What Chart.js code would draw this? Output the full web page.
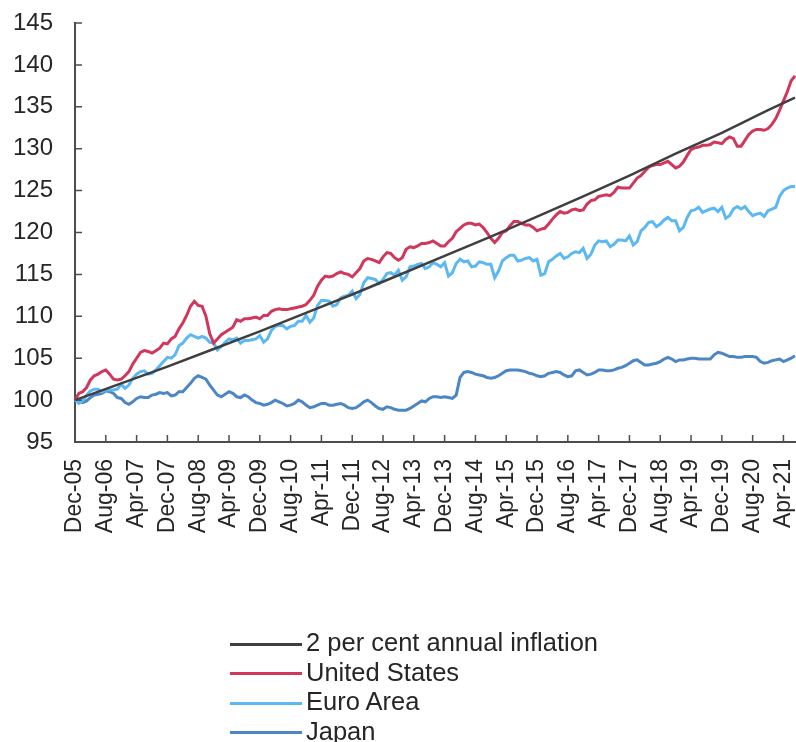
<!DOCTYPE html>
<html>
<head>
<meta charset="utf-8">
<script src="https://cdn.jsdelivr.net/npm/chart.js@4.4.1/dist/chart.umd.min.js"></script>
<style>
  html, body { margin: 0; padding: 0; background: #fff; }
  #wrap { position: relative; width: 796px; height: 742px; }
  #legend {
    position: absolute; left: 230px; top: 628px;
    font-family: "Liberation Sans", Arial, sans-serif; font-size: 25.5px; color: #262626;
  }
  #legend .row { height: 29.5px; line-height: 29.5px; white-space: nowrap; }
  #legend .swatch { display: inline-block; width: 72px; height: 3px; vertical-align: middle; margin-right: 4px; }
</style>
</head>
<body>
<div id="wrap">
  <canvas id="cpiChart" width="796" height="742"></canvas>
  <div id="legend"></div>
</div>
<script>
// Monthly categories, Dec-05 .. Jul-21
const MONTHS = [
  "Dec-05",
  "Jan-06","Feb-06","Mar-06","Apr-06","May-06","Jun-06","Jul-06","Aug-06","Sep-06","Oct-06","Nov-06","Dec-06",
  "Jan-07","Feb-07","Mar-07","Apr-07","May-07","Jun-07","Jul-07","Aug-07","Sep-07","Oct-07","Nov-07","Dec-07",
  "Jan-08","Feb-08","Mar-08","Apr-08","May-08","Jun-08","Jul-08","Aug-08","Sep-08","Oct-08","Nov-08","Dec-08",
  "Jan-09","Feb-09","Mar-09","Apr-09","May-09","Jun-09","Jul-09","Aug-09","Sep-09","Oct-09","Nov-09","Dec-09",
  "Jan-10","Feb-10","Mar-10","Apr-10","May-10","Jun-10","Jul-10","Aug-10","Sep-10","Oct-10","Nov-10","Dec-10",
  "Jan-11","Feb-11","Mar-11","Apr-11","May-11","Jun-11","Jul-11","Aug-11","Sep-11","Oct-11","Nov-11","Dec-11",
  "Jan-12","Feb-12","Mar-12","Apr-12","May-12","Jun-12","Jul-12","Aug-12","Sep-12","Oct-12","Nov-12","Dec-12",
  "Jan-13","Feb-13","Mar-13","Apr-13","May-13","Jun-13","Jul-13","Aug-13","Sep-13","Oct-13","Nov-13","Dec-13",
  "Jan-14","Feb-14","Mar-14","Apr-14","May-14","Jun-14","Jul-14","Aug-14","Sep-14","Oct-14","Nov-14","Dec-14",
  "Jan-15","Feb-15","Mar-15","Apr-15","May-15","Jun-15","Jul-15","Aug-15","Sep-15","Oct-15","Nov-15","Dec-15",
  "Jan-16","Feb-16","Mar-16","Apr-16","May-16","Jun-16","Jul-16","Aug-16","Sep-16","Oct-16","Nov-16","Dec-16",
  "Jan-17","Feb-17","Mar-17","Apr-17","May-17","Jun-17","Jul-17","Aug-17","Sep-17","Oct-17","Nov-17","Dec-17",
  "Jan-18","Feb-18","Mar-18","Apr-18","May-18","Jun-18","Jul-18","Aug-18","Sep-18","Oct-18","Nov-18","Dec-18",
  "Jan-19","Feb-19","Mar-19","Apr-19","May-19","Jun-19","Jul-19","Aug-19","Sep-19","Oct-19","Nov-19","Dec-19",
  "Jan-20","Feb-20","Mar-20","Apr-20","May-20","Jun-20","Jul-20","Aug-20","Sep-20","Oct-20","Nov-20","Dec-20",
  "Jan-21","Feb-21","Mar-21","Apr-21","May-21","Jun-21","Jul-21"
];

// Labels shown on the x axis (every 8 months)
const TICK_LABELS = [
  "Dec-05","Aug-06","Apr-07","Dec-07","Aug-08","Apr-09","Dec-09","Aug-10","Apr-11","Dec-11","Aug-12","Apr-13",
  "Dec-13","Aug-14","Apr-15","Dec-15","Aug-16","Apr-17","Dec-17","Aug-18","Apr-19","Dec-19","Aug-20","Apr-21"
];

// 2 per cent path, read at each December and at the last month
const BENCH_MONTHS = ["Dec-05","Dec-06","Dec-07","Dec-08","Dec-09","Dec-10","Dec-11","Dec-12","Dec-13",
  "Dec-14","Dec-15","Dec-16","Dec-17","Dec-18","Dec-19","Dec-20","Jul-21"];
const BENCH_VALUES = [100.0, 102.0, 104.0, 106.1, 108.2, 110.4, 112.6, 114.9, 117.2,
  119.5, 121.9, 124.3, 126.8, 129.4, 131.9, 134.6, 136.1];

const US = [
  100.0,
  100.8, 101.0, 101.5, 102.4, 102.9, 103.1, 103.4, 103.6, 103.1, 102.5, 102.4, 102.5,
  102.9, 103.4, 104.3, 105.0, 105.7, 105.9, 105.8, 105.6, 105.9, 106.2, 106.8, 106.7,
  107.3, 107.6, 108.5, 109.2, 110.1, 111.2, 111.8, 111.3, 111.2, 110.0, 107.9, 106.8,
  107.3, 107.8, 108.1, 108.4, 108.7, 109.6, 109.4, 109.7, 109.7, 109.8, 109.9, 109.7,
  110.1, 110.1, 110.6, 110.8, 110.9, 110.8, 110.8, 110.9, 111.0, 111.1, 111.2, 111.4,
  111.9, 112.5, 113.6, 114.3, 114.8, 114.7, 114.8, 115.1, 115.3, 115.1, 115.0, 114.7,
  115.2, 115.7, 116.6, 116.9, 116.8, 116.6, 116.4, 117.1, 117.6, 117.5, 117.0, 116.7,
  117.0, 118.0, 118.3, 118.2, 118.4, 118.7, 118.7, 118.8, 119.0, 118.7, 118.4, 118.4,
  118.9, 119.3, 120.1, 120.5, 120.9, 121.1, 121.1, 120.9, 121.0, 120.6, 120.0, 119.3,
  118.8, 119.3, 120.0, 120.2, 120.8, 121.3, 121.3, 121.1, 120.9, 120.9, 120.6, 120.2,
  120.4, 120.5, 121.0, 121.6, 122.1, 122.5, 122.3, 122.4, 122.7, 122.8, 122.6, 122.7,
  123.4, 123.8, 123.9, 124.3, 124.4, 124.5, 124.4, 124.8, 125.4, 125.3, 125.3, 125.3,
  125.9, 126.5, 126.8, 127.3, 127.8, 128.0, 128.1, 128.1, 128.3, 128.5, 128.1, 127.7,
  127.9, 128.4, 129.2, 129.9, 130.1, 130.2, 130.4, 130.4, 130.5, 130.8, 130.7, 130.6,
  131.1, 131.4, 131.2, 130.3, 130.3, 131.0, 131.7, 132.1, 132.3, 132.3, 132.2, 132.4,
  132.9, 133.6, 134.6, 135.7, 136.8, 138.1, 138.7
];

const EURO = [
  100.0,
  99.6, 99.9, 100.6, 101.1, 101.3, 101.3, 101.0, 101.2, 101.2, 101.2, 101.3, 101.9,
  101.4, 101.8, 102.6, 103.1, 103.4, 103.5, 103.1, 103.2, 103.6, 104.1, 104.6, 105.1,
  105.0, 105.4, 106.5, 106.8, 107.4, 107.8, 107.6, 107.4, 107.6, 107.4, 106.9, 106.8,
  106.0, 106.4, 106.9, 107.3, 107.2, 107.4, 106.8, 107.1, 107.1, 107.2, 107.3, 107.7,
  106.9, 107.3, 108.3, 108.8, 108.9, 108.9, 108.5, 108.8, 108.9, 109.4, 109.4, 110.1,
  109.3, 109.8, 111.3, 111.9, 111.9, 111.8, 111.2, 111.4, 112.2, 112.4, 112.5, 113.0,
  112.1, 112.6, 114.0, 114.6, 114.5, 114.4, 113.9, 114.4, 115.1, 115.2, 114.9, 115.5,
  114.3, 114.7, 115.9, 116.0, 116.2, 116.3, 115.7, 115.9, 116.4, 116.2, 115.9, 116.4,
  114.8, 115.2, 116.3, 116.8, 116.5, 116.6, 115.9, 116.0, 116.5, 116.4, 116.2, 116.2,
  114.6, 115.4, 116.6, 117.0, 117.3, 117.3, 116.6, 116.7, 116.9, 117.0, 116.6, 116.8,
  114.9, 115.1, 116.5, 116.8, 117.2, 117.5, 116.9, 117.1, 117.5, 117.7, 117.6, 118.1,
  116.9, 117.4, 118.5, 119.0, 118.9, 119.0, 118.3, 118.6, 119.1, 119.1, 119.0, 119.6,
  118.5, 118.9, 120.2, 120.6, 121.2, 121.3, 120.7, 121.0, 121.5, 121.8, 121.4, 121.4,
  120.2, 120.6, 121.8, 122.6, 122.7, 123.0, 122.4, 122.6, 122.8, 122.9, 122.5, 123.0,
  121.7, 122.0, 122.8, 123.1, 122.8, 123.1, 122.5, 122.0, 122.2, 122.3, 121.9, 122.6,
  122.8, 123.0, 124.3, 125.0, 125.3, 125.5, 125.5
];

const JAPAN = [
  100.0,
  99.9, 99.7, 99.9, 100.3, 100.6, 100.7, 100.8, 101.1, 101.0, 100.8, 100.3, 100.2,
  99.7, 99.5, 99.8, 100.2, 100.4, 100.3, 100.3, 100.6, 100.7, 100.9, 100.8, 100.9,
  100.5, 100.6, 101.0, 101.0, 101.5, 102.0, 102.6, 102.9, 102.7, 102.5, 101.8, 101.2,
  100.6, 100.4, 100.7, 101.0, 100.8, 100.4, 100.3, 100.6, 100.4, 100.0, 99.7, 99.6,
  99.4, 99.5, 99.7, 100.0, 99.8, 99.6, 99.3, 99.4, 99.6, 100.0, 99.8, 99.4,
  99.1, 99.2, 99.4, 99.6, 99.6, 99.4, 99.4, 99.5, 99.6, 99.4, 99.1, 99.0,
  99.1, 99.4, 99.8, 100.0, 99.7, 99.3, 99.0, 98.9, 99.2, 99.1, 98.9, 98.8,
  98.8, 98.8, 99.0, 99.3, 99.6, 99.9, 99.8, 100.2, 100.4, 100.4, 100.3, 100.4,
  100.3, 100.2, 100.6, 102.7, 103.3, 103.4, 103.3, 103.1, 103.0, 102.9, 102.7, 102.6,
  102.7, 102.9, 103.2, 103.5, 103.6, 103.6, 103.6, 103.5, 103.4, 103.2, 103.1, 102.9,
  102.8, 102.9, 103.2, 103.3, 103.4, 103.3, 103.0, 102.8, 102.9, 103.5, 103.6, 103.3,
  103.0, 103.1, 103.3, 103.6, 103.6, 103.5, 103.5, 103.6, 103.8, 103.9, 104.1, 104.4,
  104.7, 104.8, 104.5, 104.2, 104.2, 104.3, 104.4, 104.6, 104.9, 105.1, 104.9, 104.6,
  104.8, 104.8, 104.9, 105.0, 105.0, 104.9, 104.9, 104.9, 104.9, 105.4, 105.7, 105.6,
  105.4, 105.2, 105.2, 105.1, 105.1, 105.2, 105.2, 105.2, 105.1, 104.6, 104.4, 104.5,
  104.7, 104.8, 104.9, 104.6, 104.8, 105.0, 105.3
];

const FONT = "'Liberation Sans', Arial, sans-serif";
const TEXT_COLOR = "#262626";
const AXIS_COLOR = "#4d4d4d";

// Small inward tick marks, like the original
const innerTicks = {
  id: "innerTicks",
  afterDraw(chart) {
    const { ctx, chartArea, scales: { x, y } } = chart;
    ctx.save();
    ctx.strokeStyle = AXIS_COLOR;
    ctx.lineWidth = 1.5;
    ctx.beginPath();
    y.ticks.forEach(t => {
      const py = y.getPixelForValue(t.value);
      ctx.moveTo(chartArea.left, py);
      ctx.lineTo(chartArea.left + 7, py);
    });
    MONTHS.forEach((m, i) => {
      if (!TICK_LABELS.includes(m) || i === 0) return;
      const px = x.getPixelForValue(i);
      ctx.moveTo(px, chartArea.bottom);
      ctx.lineTo(px, chartArea.bottom - 7);
    });
    ctx.stroke();
    ctx.restore();
  }
};

const chart = new Chart(document.getElementById("cpiChart"), {
  type: "line",
  data: {
    labels: MONTHS,
    datasets: [
      { label: "2 per cent annual inflation", data: BENCH_MONTHS.map((m, i) => ({ x: m, y: BENCH_VALUES[i] })),
        borderColor: "#3f3f3f", borderWidth: 2.5, spanGaps: true },
      { label: "United States", data: US, borderColor: "#d1365c", borderWidth: 3 },
      { label: "Euro Area", data: EURO, borderColor: "#5cb8f2", borderWidth: 3 },
      { label: "Japan", data: JAPAN, borderColor: "#4c86c4", borderWidth: 3 }
    ]
  },
  options: {
    responsive: false,
    animation: false,
    devicePixelRatio: 1,
    elements: { point: { radius: 0 }, line: { tension: 0 } },
    layout: { padding: { top: 23, right: 1, left: 0, bottom: 0 } },
    plugins: { legend: { display: false }, tooltip: { enabled: false } },
    scales: {
      x: {
        grid: { display: false, drawTicks: false },
        border: { display: true, color: AXIS_COLOR, width: 2 },
        ticks: {
          autoSkip: false, minRotation: 90, maxRotation: 90, padding: 17,
          color: TEXT_COLOR, font: { family: FONT, size: 23 },
          callback: (v, i) => TICK_LABELS.includes(MONTHS[i]) ? MONTHS[i] : null
        },
        afterFit: s => { s.height = 300; s.paddingLeft = 0; s.paddingRight = 0; }
      },
      y: {
        min: 95, max: 145,
        grid: { display: false, drawTicks: false },
        border: { display: true, color: AXIS_COLOR, width: 2 },
        ticks: { stepSize: 5, padding: 22, color: TEXT_COLOR, font: { family: FONT, size: 24 } },
        afterFit: s => { s.width = 75; s.paddingTop = 0; s.paddingBottom = 0; }
      }
    }
  },
  plugins: [innerTicks]
});

// HTML legend, one entry per row
document.getElementById("legend").innerHTML = chart.data.datasets
  .map(ds => `<div class="row"><span class="swatch" style="background:${ds.borderColor}"></span>${ds.label}</div>`)
  .join("");
</script>
</body>
</html>
